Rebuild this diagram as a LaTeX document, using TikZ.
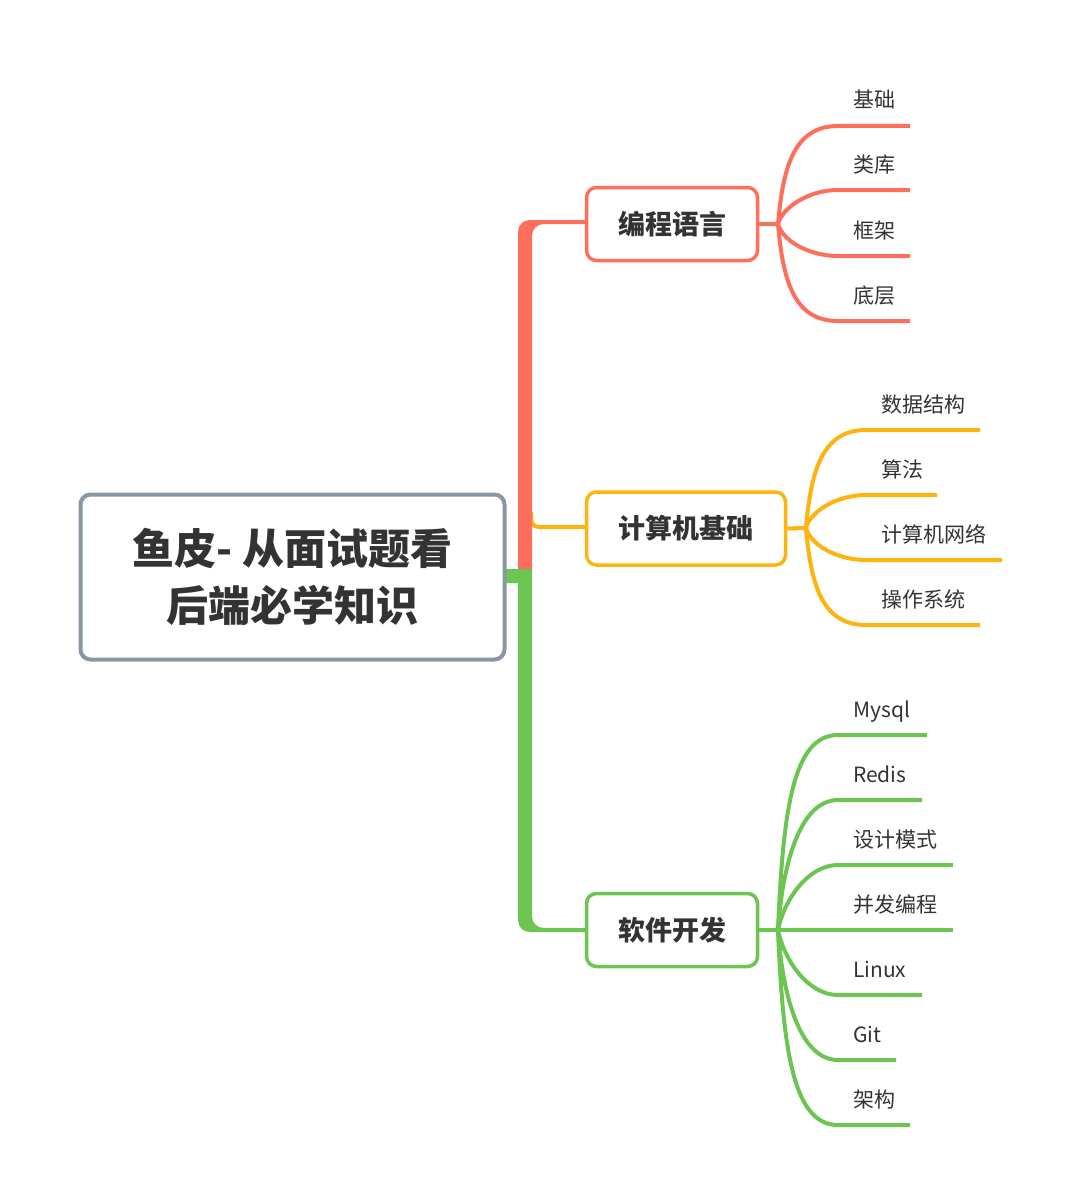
\documentclass[tikz,border=0pt]{standalone}
\usepackage{fontspec}
\setmainfont{Noto Sans CJK SC}
\definecolor{cred}{HTML}{FF6E5A}
\definecolor{corange}{HTML}{FFB30F}
\definecolor{cgreen}{HTML}{6CC551}
\definecolor{cgray}{HTML}{8A95A5}
\definecolor{ctext}{HTML}{333333}
\begin{document}
\begin{tikzpicture}[x=1pt,y=-1pt,
  rootbox/.style={draw=cgray,line width=4pt,rounded corners=10pt,fill=white,
    minimum width=424pt,minimum height=165pt,inner sep=0pt,align=center,text=ctext,
    font=\fontsize{42}{57}\selectfont\bfseries},
  mainbox/.style={line width=3.5pt,rounded corners=10pt,fill=white,
    minimum height=73pt,inner sep=0pt,text=ctext,font=\fontsize{27}{32}\selectfont\bfseries},
  leaf/.style={anchor=base west,inner sep=0pt,text=ctext,font=\fontsize{21}{24}\selectfont},
  thin/.style={line width=4pt}]
\useasboundingbox (0,0) rectangle (1080,1204);

% branch connector (orange) from trunk
\draw[thin,corange,rounded corners=8pt] (531,512) |- (586,527);
% trunk, red part with its top corner
\fill[cred] (518,570) -- (518,232) .. controls (518,225) and (523,220) .. (530,220)
  -- (586,220) -- (586,224) -- (544,224) .. controls (537,224) and (532,229) .. (532,236)
  -- (532,570) -- cycle;
% trunk, green part with its bottom corner and stub to root
\fill[cgreen] (505,569) -- (532,569) -- (532,916) .. controls (532,923) and (537,928) .. (544,928)
  -- (586,928) -- (586,932) -- (530,932) .. controls (523,932) and (518,927) .. (518,920)
  -- (518,583) -- (505,583) -- cycle;

% root
\node[rootbox] (root) at (292.5,577) {鱼皮- 从面试题看\\后端必学知识};

% main boxes
\node[mainbox,draw=cred,minimum width=171pt] (b1) at (672,224) {编程语言};
\node[mainbox,draw=corange,minimum width=199pt] (b2) at (686,528.5) {计算机基础};
\node[mainbox,draw=cgreen,minimum width=171pt] (b3) at (672,930) {软件开发};

% group 1
\coordinate (o1) at (778,224);
\draw[thin,cred] (b1.east) -- (o1);
\begin{scope}[thin,cred]
\draw (o1) .. controls +(5,-59) and +(-43,0) .. (838,126) -- (910,126);
\draw (o1) .. controls +(4,-16) and +(-30,0) .. (838,190) -- (910,190);
\draw (o1) .. controls +(4,16) and +(-30,0) .. (838,256) -- (910,256);
\draw (o1) .. controls +(5,59) and +(-43,0) .. (838,321) -- (910,321);
\end{scope}
\node[leaf] (t11) at (853,108) {基础};
\node[leaf] (t12) at (853,172) {类库};
\node[leaf] (t13) at (853,238) {框架};
\node[leaf] (t14) at (853,303) {底层};

% group 2
\coordinate (o2) at (806,528);
\draw[thin,corange] (b2.east) -- (o2);
\begin{scope}[thin,corange]
\draw (o2) .. controls +(5,-59) and +(-43,0) .. (866,430) -- (980,430);
\draw (o2) .. controls +(4,-16) and +(-30,0) .. (866,495) -- (937,495);
\draw (o2) .. controls +(4,16) and +(-30,0) .. (866,560) -- (1002,560);
\draw (o2) .. controls +(5,59) and +(-43,0) .. (866,625) -- (980,625);
\end{scope}
\node[leaf] (t21) at (881,412) {数据结构};
\node[leaf] (t22) at (881,477) {算法};
\node[leaf] (t23) at (881,542) {计算机网络};
\node[leaf] (t24) at (881,607) {操作系统};

% group 3
\coordinate (o3) at (778,930);
\draw[thin,cgreen] (b3.east) -- (o3);
\begin{scope}[thin,cgreen]
\draw (o3) .. controls +(5,-120) and +(-45,0) .. (838,735) -- (927,735);
\draw (o3) .. controls +(5,-72) and +(-36,0) .. (838,800) -- (922,800);
\draw (o3) .. controls +(6,-30) and +(-30,0) .. (838,865) -- (953,865);
\draw (o3) -- (953,930);
\draw (o3) .. controls +(6,30) and +(-30,0) .. (838,995) -- (922,995);
\draw (o3) .. controls +(5,72) and +(-36,0) .. (838,1060) -- (896,1060);
\draw (o3) .. controls +(5,120) and +(-45,0) .. (838,1125) -- (910,1125);
\end{scope}
\node[leaf] (t31) at (853,717) {Mysql};
\node[leaf] (t32) at (853,782) {Redis};
\node[leaf] (t33) at (853,847) {设计模式};
\node[leaf] (t34) at (853,912) {并发编程};
\node[leaf] (t35) at (853,977) {Linux};
\node[leaf] (t36) at (853,1042) {Git};
\node[leaf] (t37) at (853,1107) {架构};
\end{tikzpicture}
\end{document}
